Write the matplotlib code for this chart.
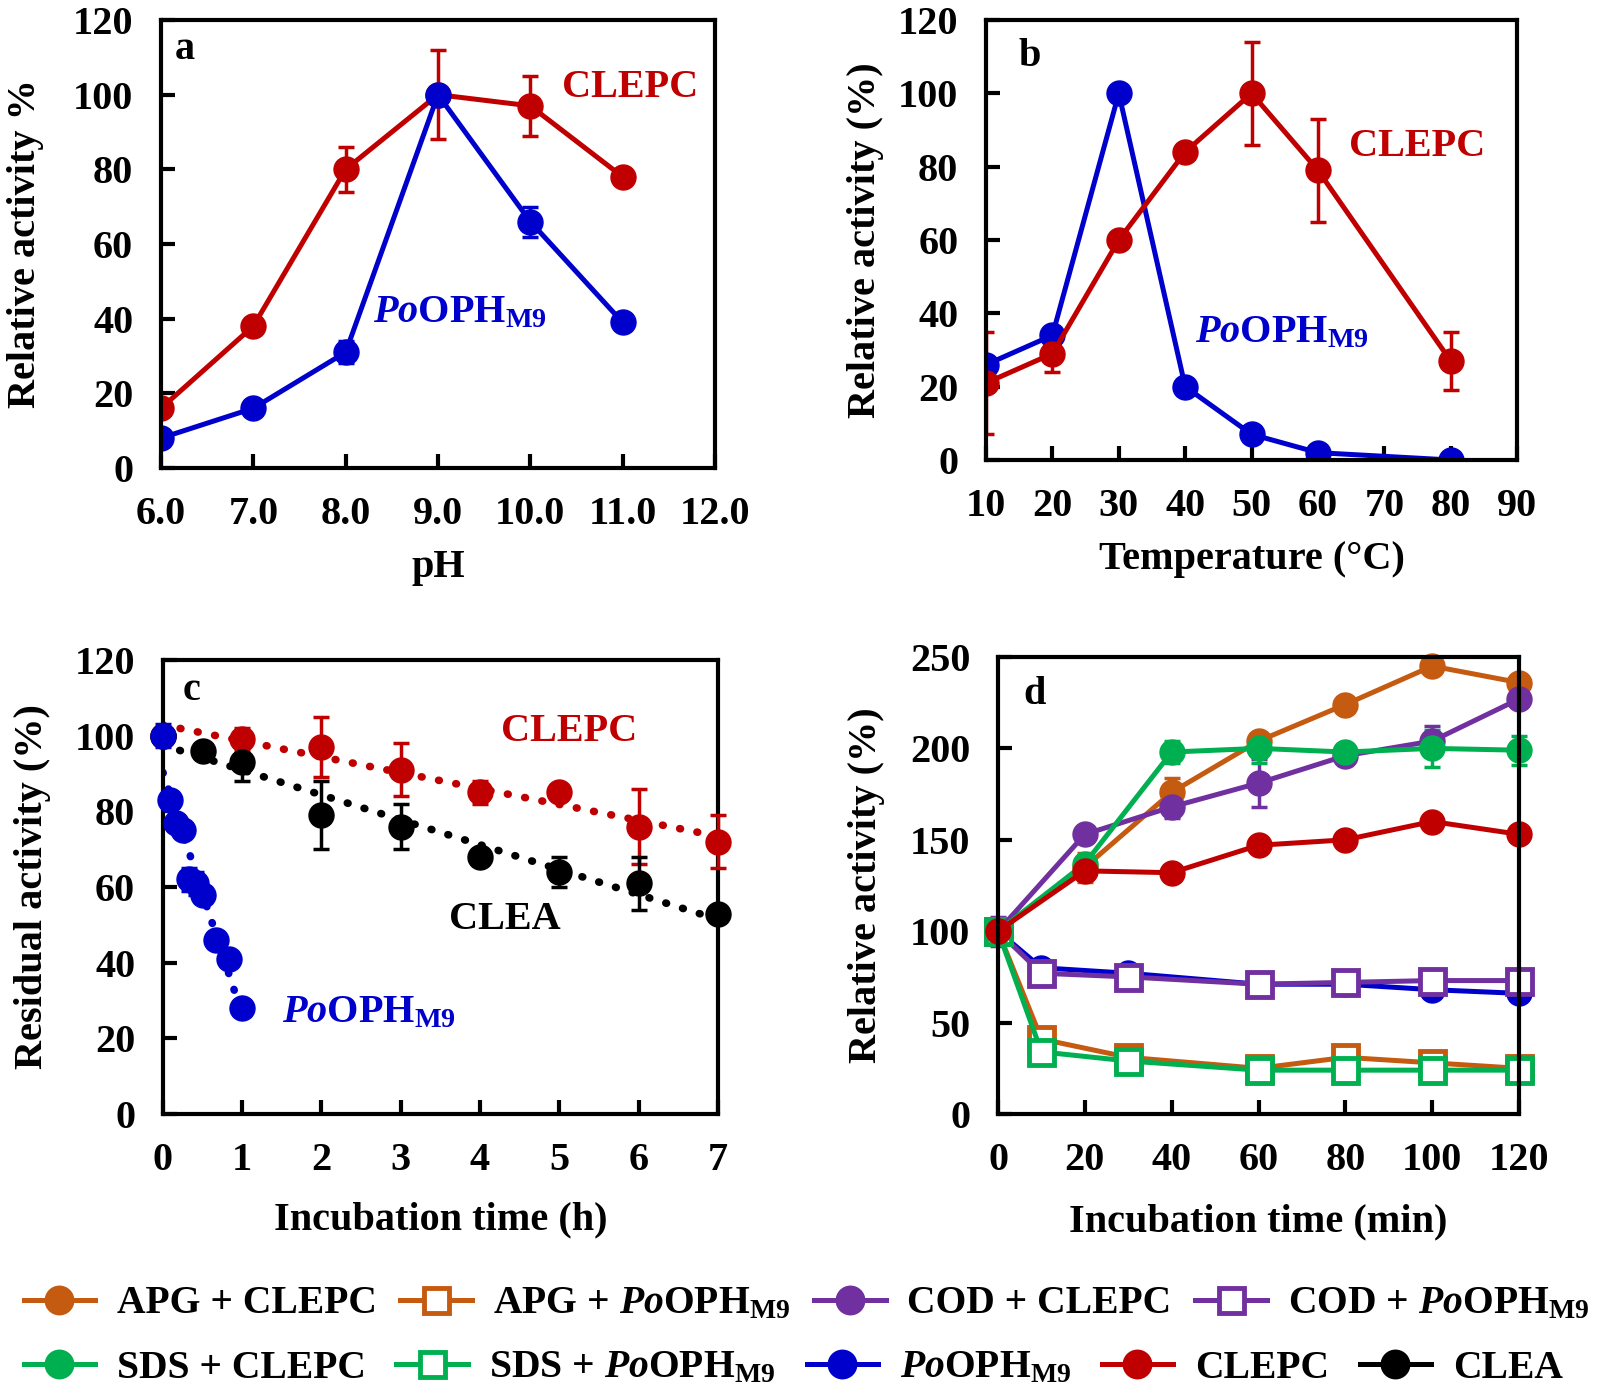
import matplotlib
matplotlib.use("AGG")
import matplotlib.pyplot as plt
from matplotlib.lines import Line2D
import numpy as np

plt.rcParams['font.family'] = ['Liberation Serif', 'DejaVu Serif']
plt.rcParams['font.weight'] = 'bold'
plt.rcParams['axes.labelweight'] = 'bold'
plt.rcParams['mathtext.fontset'] = 'custom'
plt.rcParams['mathtext.rm'] = 'Liberation Serif:bold'
plt.rcParams['mathtext.bf'] = 'Liberation Serif:bold'
plt.rcParams['mathtext.it'] = 'Liberation Serif:italic:bold'

RED = '#C00000'
BLUE = '#0000CC'
ORANGE = '#C55A11'
PURPLE = '#7030A0'
GREEN = '#00B050'
POOPH = r'$\mathit{Po}\mathrm{OPH}_{\mathrm{M9}}$'

# panel a: pH
ph = [6.0, 7.0, 8.0, 9.0, 10.0, 11.0]
ph_clepc = [16, 38, 80, 100, 97, 78]
ph_clepc_err = [1, 1, 6, 12, 8, 1]
ph_pooph = [8, 16, 31, 100, 66, 39]
ph_pooph_err = [1, 1, 3, 1, 4, 1]

# panel b: temperature
temp = [10, 20, 30, 40, 50, 60, 80]
temp_clepc = [21, 29, 60, 84, 100, 79, 27]
temp_clepc_err = [14, 5, 1, 1, 14, 14, 8]
temp_pooph = [26, 34, 100, 20, 7, 2, 0]

# panel c: stability (h)
t_h = [0, 1, 2, 3, 4, 5, 6, 7]
stab_clepc = [100, 99, 97, 91, 85, 85, 76, 72]
stab_clepc_err = [2, 3, 8, 7, 3, 2, 10, 7]
t_clea = [0, 0.5, 1, 2, 3, 4, 5, 6, 7]
stab_clea = [100, 96, 93, 79, 76, 68, 64, 61, 53]
stab_clea_err = [2, 1, 5, 9, 6, 2, 4, 7, 1]
t_pooph = [0, 5/60, 10/60, 15/60, 20/60, 25/60, 30/60, 40/60, 50/60, 1.0]
stab_pooph = [100, 83, 77, 75, 62, 61, 58, 46, 41, 28]
stab_pooph_err = [3, 2, 1, 1, 3, 3, 2, 2, 1, 1]

# panel d: surfactants (min)
t_min_c = [0, 20, 40, 60, 80, 100, 120]
t_min_p = [0, 10, 30, 60, 80, 100, 120]
apg_clepc = [100, 135, 176, 204, 224, 245, 236]
apg_clepc_err = [2, 8, 8, 3, 2, 2, 2]
cod_clepc = [100, 153, 168, 181, 196, 204, 227]
cod_clepc_err = [8, 2, 6, 13, 5, 8, 2]
sds_clepc = [100, 137, 198, 200, 198, 200, 199]
sds_clepc_err = [2, 3, 6, 8, 3, 10, 8]
clepc_d = [100, 133, 132, 147, 150, 160, 153]
clepc_d_err = [2, 2, 2, 2, 2, 2, 2]
apg_pooph = [100, 41, 31, 25, 31, 28, 25]
cod_pooph = [100, 77, 75, 71, 72, 73, 73]
sds_pooph = [100, 34, 29, 24, 24, 24, 24]
pooph_d = [100, 80, 77, 71, 71, 68, 66]
sq_err = [3, 3, 3, 3, 3, 3, 3]

fig = plt.figure(figsize=(16.02, 13.99), dpi=100)
ax_a = fig.add_axes([0.1005, 0.6655, 0.3458, 0.3202])
ax_b = fig.add_axes([0.6155, 0.6712, 0.3315, 0.3145])
ax_c = fig.add_axes([0.1017, 0.2037, 0.3464, 0.3245])
ax_d = fig.add_axes([0.6230, 0.2037, 0.3252, 0.3267])

TICK = 29
LAB = 29
for ax in (ax_a, ax_b, ax_c, ax_d):
    for s in ax.spines.values():
        s.set_linewidth(3)
    ax.tick_params(direction='in', length=10, width=3, labelsize=TICK,
                   top=False, right=False)
    ax.tick_params(axis='x', pad=20)
    ax.tick_params(axis='y', pad=20)

lw = 3.6
ms = 18
ek = dict(elinewidth=2.5, capsize=6, capthick=2.5)

# a
ax_a.errorbar(ph, ph_clepc, yerr=ph_clepc_err, color=RED, marker='o', ms=ms, lw=lw, ecolor=RED, **ek)
ax_a.errorbar(ph, ph_pooph, yerr=ph_pooph_err, color=BLUE, marker='o', ms=ms, lw=lw, ecolor=BLUE, **ek)
ax_a.set_xlim(6, 12)
ax_a.set_ylim(0, 120)
ax_a.set_xticks(np.arange(6, 12.5, 1))
ax_a.set_xticklabels(['%.1f' % v for v in np.arange(6, 12.5, 1)])
ax_a.set_yticks(range(0, 121, 20))
ax_a.set_xlabel('pH', fontsize=LAB, labelpad=12)
ax_a.set_ylabel('Relative activity %', fontsize=LAB, labelpad=21)
ax_a.text(11.08, 102, 'CLEPC', color=RED, fontsize=LAB, ha='center', va='center')
ax_a.text(8.30, 39, POOPH, color=BLUE, fontsize=LAB, ha='left', va='baseline')
ax_a.text(0.043, 0.935, 'a', transform=ax_a.transAxes, fontsize=LAB, ha='center', va='center')

# b
ax_b.errorbar(temp, temp_clepc, yerr=temp_clepc_err, color=RED, marker='o', ms=ms, lw=lw, ecolor=RED, **ek)
ax_b.plot(temp, temp_pooph, color=BLUE, marker='o', ms=ms, lw=lw)
ax_b.set_xlim(10, 90)
ax_b.set_ylim(0, 120)
ax_b.set_xticks(range(10, 91, 10))
ax_b.set_yticks(range(0, 121, 20))
ax_b.set_xlabel('Temperature (°C)', fontsize=LAB, labelpad=12)
ax_b.set_ylabel('Relative activity (%)', fontsize=LAB, labelpad=10)
ax_b.text(74.9, 85.6, 'CLEPC', color=RED, fontsize=LAB, ha='center', va='center')
ax_b.text(41.5, 32.2, POOPH, color=BLUE, fontsize=LAB, ha='left', va='baseline')
ax_b.text(0.083, 0.918, 'b', transform=ax_b.transAxes, fontsize=LAB, ha='center', va='center')

# c
dot = dict(linestyle=(0, (0.1, 2.2)), dash_capstyle='round', lw=5.5)
for x, y, e, c, x1 in [(t_h, stab_clepc, stab_clepc_err, RED, 7),
                       (t_clea, stab_clea, stab_clea_err, 'black', 7),
                       (t_pooph, stab_pooph, stab_pooph_err, BLUE, 1)]:
    k, b0 = np.polyfit(x, y, 1)
    xx = np.array([0, x1])
    ax_c.plot(xx, k * xx + b0, color=c, zorder=2, **dot)
    ax_c.errorbar(x, y, yerr=e, color=c, marker='o', ms=ms, ls='none', ecolor=c, zorder=3, clip_on=False, **ek)
ax_c.set_xlim(0, 7)
ax_c.set_ylim(0, 120)
ax_c.set_xticks(range(0, 8))
ax_c.set_yticks(range(0, 121, 20))
ax_c.set_xlabel('Incubation time (h)', fontsize=LAB, labelpad=16)
ax_c.set_ylabel('Residual activity (%)', fontsize=LAB, labelpad=17)
ax_c.text(5.12, 101.2, 'CLEPC', color=RED, fontsize=LAB, ha='center', va='center')
ax_c.text(4.31, 51.3, 'CLEA', color='black', fontsize=LAB, ha='center', va='center')
ax_c.text(1.50, 24.3, POOPH, color=BLUE, fontsize=LAB, ha='left', va='baseline')
ax_c.text(0.052, 0.932, 'c', transform=ax_c.transAxes, fontsize=LAB, ha='center', va='center')

# d
sq = dict(marker='s', ms=ms, mfc='white', mew=3.5, lw=lw, clip_on=False, **ek)
ci = dict(marker='o', ms=ms, lw=lw, clip_on=False, **ek)
ax_d.errorbar(t_min_p, pooph_d, yerr=sq_err, color=BLUE, ecolor=BLUE, **ci)
ax_d.errorbar(t_min_p, cod_pooph, yerr=sq_err, color=PURPLE, ecolor=PURPLE, **sq)
ax_d.errorbar(t_min_p, apg_pooph, yerr=sq_err, color=ORANGE, ecolor=ORANGE, **sq)
ax_d.errorbar(t_min_p, sds_pooph, yerr=sq_err, color=GREEN, ecolor=GREEN, **sq)
ax_d.errorbar(t_min_c, apg_clepc, yerr=apg_clepc_err, color=ORANGE, ecolor=ORANGE, **ci)
ax_d.errorbar(t_min_c, cod_clepc, yerr=cod_clepc_err, color=PURPLE, ecolor=PURPLE, **ci)
ax_d.errorbar(t_min_c, sds_clepc, yerr=sds_clepc_err, color=GREEN, ecolor=GREEN, **ci)
ax_d.errorbar(t_min_c, clepc_d, yerr=clepc_d_err, color=RED, ecolor=RED, **ci)
ax_d.set_xlim(0, 120)
ax_d.set_ylim(0, 250)
ax_d.set_xticks(range(0, 121, 20))
ax_d.set_yticks(range(0, 251, 50))
ax_d.set_xlabel('Incubation time (min)', fontsize=LAB, labelpad=18)
ax_d.set_ylabel('Relative activity (%)', fontsize=LAB, labelpad=18)
ax_d.text(0.071, 0.917, 'd', transform=ax_d.transAxes, fontsize=LAB, ha='center', va='center')

# legend
def h(c, m, face=None):
    return Line2D([], [], color=c, marker=m, ms=ms, lw=lw, mfc=face if face else c, mew=3.5)

row1 = [h(ORANGE, 'o'), h(ORANGE, 's', 'white'), h(PURPLE, 'o'), h(PURPLE, 's', 'white')]
lab1 = ['APG + CLEPC', 'APG + ' + POOPH, 'COD + CLEPC', 'COD + ' + POOPH]
row2 = [h(GREEN, 'o'), h(GREEN, 's', 'white'), h(BLUE, 'o'), h(RED, 'o'), h('black', 'o')]
lab2 = ['SDS + CLEPC', 'SDS + ' + POOPH, POOPH, 'CLEPC', 'CLEA']
lk = dict(frameon=False, fontsize=28.5, handlelength=1.8, handletextpad=0.55,
          borderpad=0, borderaxespad=0, loc='center left')
fig.legend(row1, lab1, ncol=4, columnspacing=0.6, bbox_to_anchor=(0.0147, 0.068), **lk)
fig.legend(row2, lab2, ncol=5, columnspacing=0.78, bbox_to_anchor=(0.0147, 0.022), **lk)

plt.savefig('out.png', dpi=100)
